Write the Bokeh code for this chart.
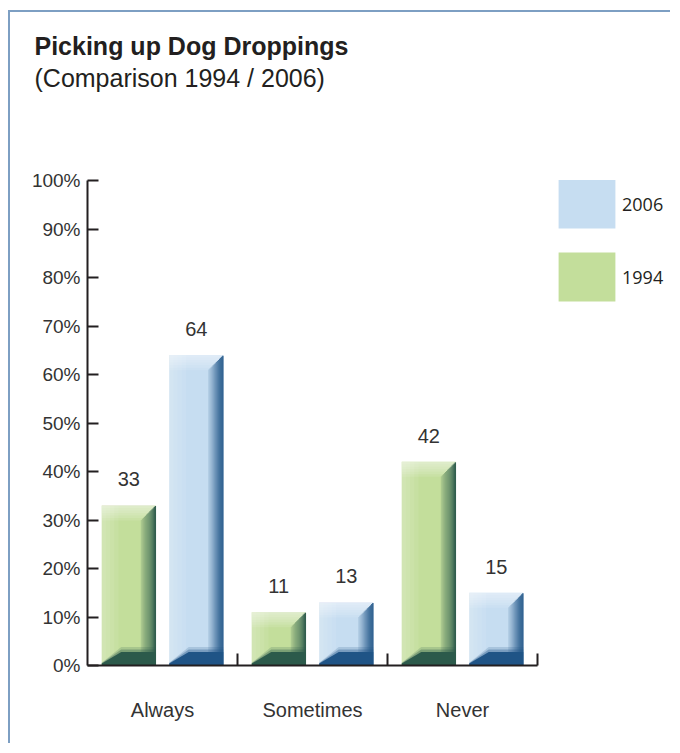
import numpy as np
from bokeh.plotting import figure
from bokeh.models import (Range1d, LinearAxis, FixedTicker, PrintfTickFormatter,
                          Legend, LegendItem, Title)
from bokeh.core.properties import value
from bokeh.embed import file_html
from bokeh.resources import INLINE

# ---------------- data ----------------
categories = ["Always", "Sometimes", "Never"]
years = ["1994", "2006"]
values_1994 = [33, 11, 42]
values_2006 = [64, 13, 15]
y_ticks = [0, 10, 20, 30, 40, 50, 60, 70, 80, 90, 100]
title_text = "Picking up Dog Droppings"
subtitle_text = "(Comparison 1994 / 2006)"

# ---------------- style ----------------
GREEN = dict(base="#c3de9b", dark="#2c5a4b")
BLUE = dict(base="#c6ddf1", dark="#1f5486")
TEXT = "#333333"
AXIS = "#231f20"
FONT = "Liberation Sans"

W, H = 662, 733
p = figure(width=W, height=H, x_range=Range1d(0, 3.9), y_range=Range1d(0, 100),
           output_backend="svg", toolbar_location=None, title=None,
           x_axis_type=None, y_axis_type=None,
           min_border_left=77, min_border_right=0, min_border_top=168, min_border_bottom=80)
p.outline_line_color = None
p.background_fill_color = "white"
p.border_fill_color = "white"
p.styles = {"border-top": "2px solid #7d9fc3", "border-left": "2px solid #7d9fc3",
            "margin-top": "10px", "margin-left": "8px"}

# axes
yaxis = LinearAxis(ticker=FixedTicker(ticks=y_ticks),
                   formatter=PrintfTickFormatter(format="%d%%"),
                   axis_line_width=2, axis_line_color=AXIS,
                   major_tick_in=11, major_tick_out=0, major_tick_line_width=2,
                   major_tick_line_color=AXIS, minor_tick_line_color=None,
                   major_label_standoff=7, major_label_text_font=FONT,
                   major_label_text_font_size="19px", major_label_text_color=TEXT)
p.add_layout(yaxis, "left")

n = len(categories)
centers = [i + 0.5 for i in range(n)]
bounds_ticks = [i + 1 for i in range(n)]
xaxis = LinearAxis(bounds=(0, n),
                   ticker=FixedTicker(ticks=centers, minor_ticks=bounds_ticks),
                   major_label_overrides={c: lab for c, lab in zip(centers, categories)},
                   axis_line_width=2, axis_line_color=AXIS,
                   major_tick_line_color=None,
                   minor_tick_in=12, minor_tick_out=0, minor_tick_line_width=2,
                   minor_tick_line_color=AXIS,
                   major_label_standoff=27, major_label_text_font=FONT,
                   major_label_text_font_size="20px", major_label_text_color=TEXT)
p.add_layout(xaxis, "below")


def mix(c1, c2, f):
    a = [int(c1[i:i + 2], 16) for i in (1, 3, 5)]
    b = [int(c2[i:i + 2], 16) for i in (1, 3, 5)]
    return "#%02x%02x%02x" % tuple(int(round(a[k] + (b[k] - a[k]) * f)) for k in range(3))


BAR_W = 0.36
OFF = 0.225
XB = 0.1    # right bevel width (data units)
YT = 3.1    # top band height
YB = 2.8    # bottom band height

face_renderers = {}
for vals, off, pal, yr in [(values_1994, -OFF, GREEN, "1994"), (values_2006, OFF, BLUE, "2006")]:
    xc = np.array(centers) + off
    x0 = xc - BAR_W / 2
    x1 = xc + BAR_W / 2
    t = np.array(vals, dtype=float)
    base, dark = pal["base"], pal["dark"]

    face = p.vbar(x=xc, width=BAR_W, top=t, bottom=0, fill_color=base, line_color=None)
    face_renderers[yr] = face

    # left highlight
    for k in range(1, 5):
        p.quad(left=x0, right=x0 + 0.028 * k, top=t, bottom=np.zeros(n),
               fill_color="white", fill_alpha=0.07, line_color=None)
    # top band
    for k in range(1, 7):
        p.quad(left=x0, right=x1, top=t, bottom=t - YT * k / 6,
               fill_color="white", fill_alpha=0.1, line_color=None)
    # right bevel (stair approximation of the diagonal)
    N = 14
    for k in range(N):
        fr = (k + 0.5) / N
        col = mix(base, dark, 0.12 + 0.88 * fr)
        xa = x1 - XB + k * XB / N
        p.quad(left=xa, right=xa + XB / N + 0.002, top=t - YT * (1 - fr), bottom=np.zeros(n),
               fill_color=col, line_color=None)
    # bottom band
    for h, a in [(YB + 1.0, 0.18), (YB + 0.5, 0.35), (YB, 1.0)]:
        xs = [[a0, a0, a0 + 0.13, b1, b1] for a0, b1 in zip(x0, x1)]
        ys = [[0, h * 0.15, h, h, 0] for _ in range(n)]
        p.patches(xs=xs, ys=ys, fill_color=dark, fill_alpha=a, line_color=None)

    # value labels
    p.text(x=xc, y=t, text=[str(v) for v in vals], text_align="center",
           text_baseline="alphabetic", y_offset=-26, text_font=value(FONT),
           text_font_size="20px", text_color=TEXT)

legend = Legend(items=[LegendItem(label=years[1], renderers=[face_renderers["2006"]]),
                       LegendItem(label=years[0], renderers=[face_renderers["1994"]])],
                location=(464, 358), orientation="vertical",
                glyph_width=71, glyph_height=61, spacing=12, padding=0, margin=0,
                label_standoff=0, border_line_color=None, background_fill_alpha=0,
                label_text_font="Open Sans", label_text_font_size="18px",
                label_text_color=AXIS)
p.add_layout(legend)

# titles stacked above the frame: spacer, subtitle, title
p.add_layout(Title(text=" ", text_font_size="2px", standoff=85), "above")
p.add_layout(Title(text=subtitle_text, align="left", offset=-53, standoff=0,
                   text_font=FONT, text_font_size="25px", text_font_style="normal",
                   text_color=AXIS), "above")
p.add_layout(Title(text=title_text, align="left", offset=-53, standoff=4,
                   text_font=FONT, text_font_size="25px", text_font_style="bold",
                   text_color=AXIS), "above")

open("out.html", "w").write(file_html(p, INLINE))
